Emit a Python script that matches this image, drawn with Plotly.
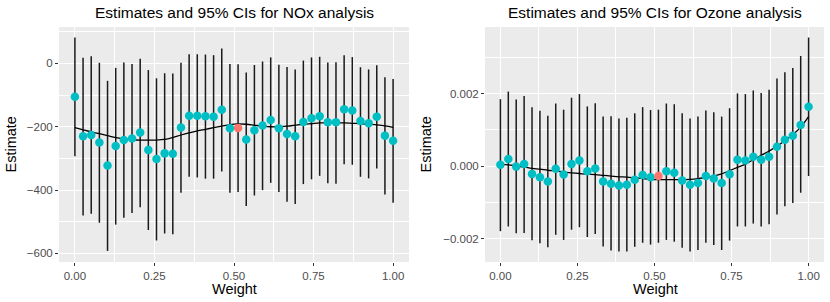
import plotly.graph_objects as go

# ---------------- data ----------------
n_points = 40
weights = [k / 39 for k in range(n_points)]
highlight_index = 20

nox_est = [-105, -230, -226, -250, -322, -261, -242, -237, -218, -273,
           -302, -284, -285, -202, -165, -165, -167, -168, -146, -205,
           -204, -240, -211, -196, -179, -205, -223, -230, -185, -173,
           -167, -186, -186, -145, -149, -182, -189, -168, -228, -244]
nox_upper = [82, 18, 23, 2, -55, -14, 3, -2, 15, -21,
             -47, -31, -32, 2, 29, 29, 28, 26, 47, -2,
             -3, -29, -5, 6, 19, -4, -11, -19, 9, 19,
             21, 3, 4, 26, 20, -12, -19, -6, -44, -49]
nox_lower = [-293, -480, -475, -503, -592, -509, -487, -472, -454, -526,
             -559, -537, -539, -408, -358, -360, -364, -364, -341, -408,
             -406, -450, -417, -400, -377, -406, -437, -444, -381, -366,
             -355, -378, -380, -318, -320, -358, -363, -332, -414, -440]
nox_smooth = [-203, -210, -216, -222, -228, -234, -238, -241, -242, -242,
              -242, -240, -234, -226, -219, -213, -208, -203, -198, -193,
              -191, -192, -195, -198, -200, -200, -198, -195, -192, -190,
              -188, -188, -188, -188, -189, -190, -192, -194, -197, -202]

oz_est = [0.00004, 0.00020, -0.00001, 0.00006, -0.00021, -0.00030, -0.00042, -0.00007, -0.00023, 0.00006,
          0.00016, -0.00014, -0.00006, -0.00042, -0.00048, -0.00053, -0.00051, -0.00037, -0.00024, -0.00030,
          -0.00027, -0.00014, -0.00018, -0.00039, -0.00051, -0.00046, -0.00027, -0.00034, -0.00046, -0.00022,
          0.00018, 0.00016, 0.00026, 0.00018, 0.00026, 0.00054, 0.00073, 0.00084, 0.00114, 0.00164]
oz_upper = [0.00185, 0.00206, 0.00184, 0.00194, 0.00163, 0.00153, 0.00139, 0.00173, 0.00156, 0.00189,
            0.00199, 0.00165, 0.00174, 0.00137, 0.00138, 0.00132, 0.00134, 0.00146, 0.00163, 0.00155,
            0.00156, 0.00173, 0.00171, 0.00146, 0.00132, 0.00137, 0.00154, 0.00149, 0.00137, 0.00160,
            0.00201, 0.00199, 0.00209, 0.00202, 0.00211, 0.00242, 0.00259, 0.00271, 0.00304, 0.00355]
oz_lower = [-0.00179, -0.00166, -0.00185, -0.00184, -0.00204, -0.00212, -0.00223, -0.00189, -0.00203, -0.00175,
            -0.00168, -0.00195, -0.00187, -0.00221, -0.00232, -0.00235, -0.00235, -0.00222, -0.00211, -0.00216,
            -0.00211, -0.00203, -0.00208, -0.00225, -0.00235, -0.00231, -0.00211, -0.00217, -0.00231, -0.00205,
            -0.00166, -0.00166, -0.00158, -0.00166, -0.00160, -0.00133, -0.00110, -0.00101, -0.00073, -0.00027]
oz_smooth = [0.00006, 0.00004, 0.00001, -0.00002, -0.00006, -0.00008, -0.00011, -0.00013, -0.00016, -0.00018,
             -0.00020, -0.00022, -0.00023, -0.00025, -0.00027, -0.00029, -0.00030, -0.00032, -0.00034, -0.00036,
             -0.00037, -0.00037, -0.00037, -0.00037, -0.00036, -0.00034, -0.00031, -0.00027, -0.00021, -0.00012,
             -0.00003, 0.00006, 0.00018, 0.00030, 0.00042, 0.00055, 0.00071, 0.00087, 0.00108, 0.00137]

x_tickvals = [0, 0.25, 0.5, 0.75, 1.0]
x_ticktext = ["0.00", "0.25", "0.50", "0.75", "1.00"]
nox_tickvals = [-600, -400, -200, 0]
oz_tickvals = [-0.002, 0.0, 0.002]

titles = ["Estimates and 95% CIs for NOx analysis", "Estimates and 95% CIs for Ozone analysis"]

# ---------------- figure ----------------
W, H = 830, 302


def px(x):
    return x / W


def py(y):
    return 1 - y / H


CYAN = "#00BFC4"
RED = "#F8766D"
colors = [RED if i == highlight_index else CYAN for i in range(n_points)]

fig = go.Figure()

panels = [
    (nox_est, nox_upper, nox_lower, nox_smooth, "x", "y"),
    (oz_est, oz_upper, oz_lower, oz_smooth, "x2", "y2"),
]
for est, up, lo, sm, xa, ya in panels:
    fig.add_trace(go.Scatter(
        x=weights, y=est, mode="markers", xaxis=xa, yaxis=ya,
        marker=dict(size=8, opacity=0),
        error_y=dict(type="data", symmetric=False,
                     array=[u - e for u, e in zip(up, est)],
                     arrayminus=[e - l for e, l in zip(est, lo)],
                     width=0, thickness=1.5, color="#1a1a1a"),
        showlegend=False, hoverinfo="skip"))
    fig.add_trace(go.Scatter(
        x=weights, y=sm, mode="lines", xaxis=xa, yaxis=ya,
        line=dict(color="black", width=1.3, shape="spline"),
        showlegend=False))
    fig.add_trace(go.Scatter(
        x=weights, y=est, mode="markers", xaxis=xa, yaxis=ya,
        marker=dict(size=8.5, color=colors, line=dict(width=0)),
        showlegend=False))

FONT = "Liberation Sans, Arial, sans-serif"
common_x = dict(range=[-0.05, 1.05], tickvals=x_tickvals, ticktext=x_ticktext,
                showgrid=True, gridcolor="white", gridwidth=1.2,
                minor=dict(dtick=0.125, tick0=0, showgrid=True, gridcolor="white", gridwidth=0.6, ticks=""),
                ticks="outside", ticklen=3, tickcolor="#333333", tickwidth=1,
                tickfont=dict(size=11.5, color="#4D4D4D", family=FONT),
                zeroline=False, showline=False, fixedrange=True, automargin=False)
common_y = dict(showgrid=True, gridcolor="white", gridwidth=1.2,
                ticks="outside", ticklen=3, tickcolor="#333333", tickwidth=1,
                tickfont=dict(size=11.5, color="#4D4D4D", family=FONT),
                zeroline=False, showline=False, automargin=False, fixedrange=True)

fig.update_layout(
    width=W, height=H,
    margin=dict(l=0, r=0, t=0, b=0),
    paper_bgcolor="white", plot_bgcolor="#EBEBEB",
    font=dict(family=FONT, color="black"),
    xaxis=dict(domain=[px(59), px(409)], anchor="y", **common_x),
    xaxis2=dict(domain=[px(485), px(824)], anchor="y2", **common_x),
    yaxis=dict(domain=[py(262), py(27)], anchor="x", range=[-627, 115],
               tickvals=nox_tickvals,
               minor=dict(dtick=100, tick0=0, showgrid=True, gridcolor="white", gridwidth=0.6, ticks=""),
               **common_y),
    yaxis2=dict(domain=[py(262), py(27)], anchor="x2", range=[-0.00264, 0.00384],
                tickvals=oz_tickvals, tickformat=".3f",
                minor=dict(dtick=0.001, tick0=0, showgrid=True, gridcolor="white", gridwidth=0.6, ticks=""),
                **common_y),
)

annots = []
for title, cx in zip(titles, [234, 655]):
    annots.append(dict(text=title, x=px(cx), y=py(12.5), xref="paper", yref="paper",
                       xanchor="center", yanchor="middle", showarrow=False,
                       font=dict(size=15.5, family=FONT, color="black")))
    annots.append(dict(text="Weight", x=px(cx), y=py(289), xref="paper", yref="paper",
                       xanchor="center", yanchor="middle", showarrow=False,
                       font=dict(size=14.5, family=FONT, color="black")))
for cx in [11, 426]:
    annots.append(dict(text="Estimate", x=px(cx), y=py(144.5), xref="paper", yref="paper",
                       xanchor="center", yanchor="middle", showarrow=False, textangle=-90,
                       font=dict(size=14.5, family=FONT, color="black")))
fig.update_layout(annotations=annots)

# the page body has a default 8px margin; remove it so the figure fills the window
fig.write_html("out.html", config={"displayModeBar": False},
               post_script="document.body.style.margin='0px';")
